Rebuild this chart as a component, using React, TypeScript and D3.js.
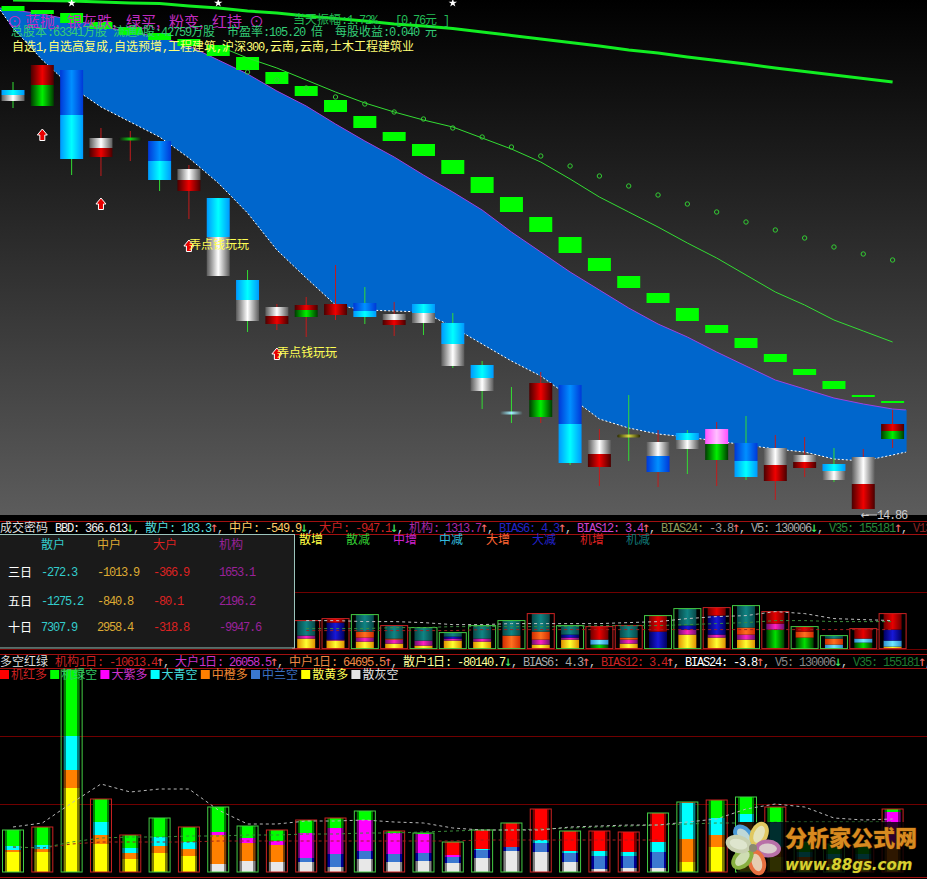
import React from 'react';
import * as d3 from 'd3';

const W = 927, H = 879;

// ---- Price pane (price readings) ----
const highs = [23.36,23.7,23.6,22.44,22.38,22.18,21.7,21.04,19.6,18.92,19.06,19.7,19.26,18.96,18.92,18.74,17.78,17.26,17.56,17.3,16.42,17.1,16.4,16.4,16.56,16.68,16.3,16.26,16.04,16.02,16.8];
const bodyTop = [23.2,23.7,23.6,22.24,22.22,22.18,21.62,21.04,19.4,18.86,18.9,18.92,18.94,18.72,18.92,18.54,17.7,16.74,17.34,17.3,16.2,16.28,16.16,16.34,16.42,16.14,16.04,15.9,15.72,15.86,16.52];
const bodyMid = [23.1,23.3,22.7,22.04,22.22,21.78,21.4,20.26,19,18.68,18.8,18.7,18.78,18.6,18.74,18.12,17.44,16.74,17,16.52,15.92,16.28,15.88,16.2,16.12,15.78,15.7,15.76,15.58,15.32,16.38];
const bodyBottom = [22.98,22.88,21.82,21.86,22.22,21.4,21.18,19.48,18.58,18.52,18.66,18.7,18.66,18.5,18.54,17.68,17.18,16.74,16.66,15.74,15.66,16.28,15.56,16.02,15.8,15.46,15.38,15.64,15.4,14.82,16.22];
const lows = [22.84,22.88,21.5,21.48,21.78,21.18,20.62,19.48,18.36,18.4,18.26,18.6,18.52,18.28,18.3,17.64,16.82,16.54,16.54,15.7,15.28,15.78,15.26,15.52,15.28,15.4,15,15.46,15.36,14.8,16.04];
const topTones = ['cyan','red','blue','grey','dojiG','blue','grey','cyan','cyan','grey','red','red','blue','grey','cyan','cyan','cyan','dojiC','red','blue','grey','dojiY','grey','cyan','pink','blue','grey','grey','cyan','grey','red'];
const bottomTones = ['grey','green','cyan','red','dojiG','cyan','red','grey','grey','red','green','red','cyan','red','grey','grey','grey','dojiC','green','cyan','red','dojiY','blue','grey','green','cyan','red','red','grey','red','green'];
const wickUp = [0,0,0,1,1,0,1,0,0,1,1,1,0,1,0,0,0,0,1,0,1,0,1,0,1,0,1,1,0,1,1];

const bandIndex = [-0.44, ...d3.range(31), 30.46];
const bandUpper = [24.84,24.8,24.72,24.6,24.48,24.36,24.26,24.08,23.8,23.52,23.18,22.88,22.52,22.18,21.86,21.5,21.16,20.8,20.36,19.96,19.56,19.2,18.84,18.52,18.26,17.96,17.68,17.4,17.22,17.04,16.92,16.82,16.8];
const bandLower = [24.8,24.44,23.8,23.26,22.86,22.56,22.26,21.84,21.34,20.74,20,19.44,18.9,18.8,18.78,18.76,18.46,18.12,17.78,17.48,17.06,16.62,16.44,16.32,16.26,16.18,16.1,16.02,15.96,15.82,15.78,15.9,15.96];

const stepTop = [24.88,24.8,24.74,24.56,24.46,24.34,24.22,24.1,23.86,23.56,23.28,23,22.68,22.36,22.12,21.8,21.46,21.06,20.66,20.26,19.84,19.48,19.14,18.84,18.5,18.24,17.92,17.62,17.38,17.1,16.98];
const stepBottom = [24.78,24.72,24.54,24.42,24.3,24.2,24.08,23.88,23.6,23.32,23.08,22.76,22.44,22.18,21.88,21.52,21.14,20.76,20.36,19.94,19.58,19.24,18.94,18.58,18.34,18.04,17.76,17.5,17.22,17.06,16.94];

const circleStart = 8;
const circleLine = [23.56,23.4,23.24,23.06,22.92,22.76,22.62,22.44,22.26,22.06,21.88,21.68,21.48,21.28,21.1,20.92,20.76,20.56,20.4,20.24,20.06,19.92,19.8];
const thinStart = 7;
const thinLine = [24.08,23.84,23.64,23.4,23.16,22.94,22.76,22.6,22.46,22.24,22.02,21.76,21.42,21.06,20.76,20.46,20.14,19.84,19.5,19.16,18.9,18.6,18.38,18.16];
const thickLine = [25,24.99,24.98,24.96,24.94,24.93,24.88,24.84,24.78,24.74,24.68,24.63,24.58,24.52,24.48,24.43,24.36,24.29,24.22,24.15,24.08,24,23.94,23.86,23.79,23.72,23.64,23.57,23.5,23.43,23.36];

const arrowIndex = [1, 3, 6, 9];
const arrowPrice = [22.3, 20.92, 20.08, 17.92];
const starIndex = [2, 7, 15];
const starPrice = [24.94, 24.94, 24.94];
const noteIndex = [6, 9];
const notePrice = [20.08, 17.92];

// ---- Middle pane: stacked volumes from index 10 ----
const midStart = 10;
const midKeys = ['yel','lime','mag','sky','org','nav','crm','tea'];
const midSeries: Record<string, number[]> = {
  yel: [10,8,7,5,3,8,7,0,4,9,0,5,0,14,11,9,0,0,0,0,2],
  lime:[0,0,0,0,0,0,0,0,0,0,4,0,0,0,0,0,19,11,0,6,0],
  mag: [3,1,4,4,5,2,3,0,5,2,0,4,0,5,3,5,6,0,0,0,0],
  sky: [0,0,0,0,0,0,0,0,0,0,5,0,0,0,0,0,0,0,4,4,6],
  org: [0,0,6,1,0,0,0,13,8,0,0,2,0,0,0,7,0,6,6,0,0],
  nav: [0,17,0,0,0,2,0,0,0,3,0,0,17,4,19,0,0,0,0,0,11],
  crm: [0,4,0,0,0,0,0,0,0,0,13,0,16,0,8,0,12,5,0,10,16],
  tea: [15,0,17,13,13,4,13,15,18,9,0,12,0,17,0,22,0,0,3,0,0],
};
const midRedBox = [1,1,0,1,0,0,0,0,1,0,1,1,0,0,1,0,1,0,0,1,1];
const midDashWhite = [28,28,27,27,26,24,24,25,25,25,25,26,27,30,32,33,37,35,30,29,28];
const midDashGreen = [20,20,20,21,21,22,22,22,22,22,23,23,23,24,25,26,28,28,27,27,27];
const midDashRed = [18,18,18,18,18,18,19,19,19,19,19,19,19,19,19,19,19,19,19,19,19];

// ---- Lower pane: stacked volumes ----
const lowKeys = ['yellow','gray','orange','steel','magenta','aqua','green','red'];
const lowSeries: Record<string, number[]> = {
  yellow: [20,20,84,28,13,19,16,0,0,0,0,0,0,0,0,0,0,0,0,0,0,0,0,10,25,25,15,10,8,8,10],
  gray:   [0,0,0,0,0,0,0,8,11,10,10,5,13,10,11,9,14,21,20,10,3,4,4,0,0,0,0,0,0,0,0],
  orange: [2,3,18,9,6,7,7,29,18,17,0,0,0,0,0,0,0,0,0,0,0,0,0,23,12,25,10,5,5,5,15],
  steel:  [0,0,0,0,0,0,0,0,0,0,4,13,8,8,8,6,8,4,9,9,13,12,16,0,0,0,0,0,0,0,0],
  magenta:[0,0,0,0,0,0,0,3,5,4,25,26,31,21,19,2,0,0,0,0,0,0,0,0,0,0,0,0,0,0,35],
  aqua:   [4,4,34,13,5,9,7,0,0,0,0,0,0,0,0,0,1,0,3,2,5,4,10,36,17,8,25,5,5,5,0],
  green:  [16,18,66,23,13,19,15,25,12,11,13,10,9,2,1,0,0,0,0,0,0,0,0,0,18,17,15,10,10,10,3],
  red:    [0,0,0,0,0,0,0,0,0,0,0,0,0,0,0,13,19,24,31,20,20,20,29,1,0,0,0,0,0,0,0],
};
const lowRedBox = [0,1,0,1,1,0,1,0,0,1,1,1,0,1,0,0,0,0,1,0,1,1,0,0,1,0,1,0,0,1,1];
const lowDashWhite = [45,49,69,88,80,83,83,62,48,48,51,51,52,50,49,44,42,42,42,45,46,47,47,50,53,63,68,65,54,52,53];
const lowDashGreen = [25,24,30,34,35,35,36,36,37,37,38,38,39,39,40,41,42,42,43,44,45,46,47,48,49,49,50,50,50,50,50];
const lowDashRed = [25,24,28,30,30,30,30,31,31,31,31,31,31,31,31,31,32,32,32,32,32,32,32];

// ---- Text ----
const mainTitle = [['⊙',7],['蓝抛,',25],['银灰跌,',67],['绿买,',126],['粉变,',169],['红持',212],['⊙',249]] as [string, number][];
const infoLine = '总股本:63341万股 流通A股:42759万股  市盈率:105.20 倍  每股收益:0.040 元';
const tagLine = '自选1,自选高复成,自选预增,工程建筑,沪深300,云南,云南,土木工程建筑业';
const midHeader: [string, string][] = [
  ['BBD: 366.613','#f0f0f0'],['↓','#44ee66'],[', ','#ccc'],
  ['散户: 183.3','#55dddd'],['↑','#ff7070'],[', ','#ccc'],
  ['中户: -549.9','#ffcc66'],['↓','#44ee66'],[', ','#ccc'],
  ['大户: -947.1','#cc2222'],['↓','#44ee66'],[', ','#ccc'],
  ['机构: 1313.7','#a828a8'],['↑','#ff7070'],[', ','#ccc'],
  ['BIAS6: 4.3','#2424c8'],['↑','#ff7070'],[', ','#ccc'],
  ['BIAS12: 3.4','#cc44cc'],['↑','#ff7070'],[', ','#ccc'],
  ['BIAS24: ','#8c9a5a'],['-3.8','#999'],['↑','#ff7070'],[', ','#ccc'],
  ['V5: 130006','#a8a8a8'],['↓','#44ee66'],[', ','#ccc'],
  ['V35: 155181','#2a8a3a'],['↑','#ff7070'],[', ','#ccc'],
  ['V135','#882222'],
];
const lowHeader: [string, string][] = [
  ['机构1日: -10613.4','#cc2222'],['↑','#ff7070'],[', ','#ccc'],
  ['大户1日: 26058.5','#cc33cc'],['↑','#ff7070'],[', ','#ccc'],
  ['中户1日: 64695.5','#ee8844'],['↑','#ff7070'],[', ','#ccc'],
  ['散户1日: -80140.7','#ffff99'],['↓','#44ee66'],[', ','#ccc'],
  ['BIAS6: 4.3','#a8a8a8'],['↑','#ff7070'],[', ','#ccc'],
  ['BIAS12: 3.4','#cc2222'],['↑','#ff7070'],[', ','#ccc'],
  ['BIAS24: -3.8','#ffffff'],['↑','#ff7070'],[', ','#ccc'],
  ['V5: 130006','#888'],['↓','#44ee66'],[', ','#ccc'],
  ['V35: 155181','#1f7a2f'],['↑','#ff7070'],[',','#ccc'],
];
const midLegendText = ['散增','散减','中增','中减','大增','大减','机增','机减'];
const midLegendX = [299,346,393,439,486,532,580,626];
const midLegendColor = ['#ffff44','#33cc33','#cc22cc','#33bbdd','#ff6633','#2222cc','#dd2222','#117777'];
const lowLegendText = ['机红多','机绿空','大紫多','大青空','中橙多','中兰空','散黄多','散灰空'];
const lowLegendBox = ['#ff0000','#00ff00','#ff00ff','#00ffff','#ff8000','#3a78d0','#ffff00','#e4e4e4'];
const lowLegendColor = ['#cc2222','#33cc66','#cc33cc','#44dddd','#ee8833','#3a70c0','#ffff55','#e4e4e4'];
const tableHeads = ['散户','中户','大户','机构'];
const tableHeadColor = ['#33cccc','#ddaa33','#dd2222','#992299'];
const tableX = [41,97,153,219];
const tableRows = ['三日','五日','十日'];
const tableBase = [577,606,632];
const tableValues = [
  ['-272.3','-1013.9','-366.9','1653.1'],
  ['-1275.2','-840.8','-80.1','2196.2'],
  ['7307.9','2958.4','-318.8','-9947.6'],
];
const petalAngle = [-38, 24, 92, 165, 225, 285];
const petalColor = ['#4a9ad8','#e0c860','#b870a8','#e87040','#88b040','#c8d0b0'];

// ---- Scales ----
const xOf = d3.scaleLinear().domain([0, 30]).range([13, 892.6]);
const yPrice = d3.scaleLinear().domain([25, 14.7]).range([0, 515]);
const yMid = d3.scaleLinear().domain([0, 100]).range([648.6, 548.6]);
const yLow = d3.scaleLinear().domain([0, 210]).range([872, 662]);

const candleTones: Record<string, [string, string]> = {
  grey: ['#5a5a5a', '#ffffff'],
  red: ['#4a0000', '#f00000'],
  green: ['#003c00', '#00f000'],
  blue: ['#0038d8', '#0090ff'],
  cyan: ['#0098ff', '#00ffff'],
  pink: ['#ff50ff', '#ffc0ff'],
  dojiG: ['#111111', '#10d010'],
  dojiC: ['#484848', '#a0f0ff'],
  dojiY: ['#2a2a00', '#d8d840'],
};
const midTones: Record<string, [string, string]> = {
  yel: ['#e09000', '#ffff30'],
  lime: ['#004000', '#00e000'],
  mag: ['#701070', '#ff20c0'],
  sky: ['#3090d0', '#70e8ff'],
  org: ['#d02c00', '#ff7020'],
  nav: ['#000060', '#1818d8'],
  crm: ['#700000', '#e80000'],
  tea: ['#084848', '#108484'],
};
const lowTones: Record<string, [string, string]> = {
  yellow: ['#808000', '#ffff00'],
  gray: ['#808080', '#e8e8e8'],
  orange: ['#804000', '#ff8000'],
  steel: ['#000090', '#3a78d0'],
  magenta: ['#800080', '#ff00ff'],
  aqua: ['#008080', '#00ffff'],
  green: ['#008000', '#00ff00'],
  red: ['#800000', '#ff0000'],
};

const LATIN = '"Liberation Mono","DejaVu Sans Mono",monospace';
const ARROW = '"DejaVu Sans Mono",monospace';
const CJK = '"Noto Sans CJK SC",sans-serif';

// Bitmap-font metrics: 6px per Latin char, 12px per CJK char
function Run({ parts, x, y }: { parts: [string, string][]; x: number; y: number }) {
  let cx = x;
  const spans: React.ReactElement[] = [];
  parts.forEach(([s, c], pi) => {
    const found = s.match(/[\u2E80-\u9FFF\uFF00-\uFFEF]+|[\u2190-\u2193]+|[^\u2E80-\u9FFF\uFF00-\uFFEF\u2190-\u2193]+/g) || [];
    found.forEach((r, ri) => {
      const cjk = /[\u2E80-\u9FFF\uFF00-\uFFEF]/.test(r);
      const arrow = /[\u2190-\u2193]/.test(r);
      if (arrow) {
        spans.push(<tspan key={`${pi}-${ri}`} x={cx - 1.2} fill={c} fontFamily={ARROW} fontSize={14}>{r}</tspan>);
      } else if (cjk) {
        spans.push(<tspan key={`${pi}-${ri}`} x={cx} fill={c} fontFamily={CJK} fontSize={12}>{r}</tspan>);
      } else {
        spans.push(<tspan key={`${pi}-${ri}`} x={cx} fill={c} fontFamily={LATIN} fontSize={12} letterSpacing={-1.2}>{r}</tspan>);
      }
      cx += r.length * (cjk ? 12 : 6);
    });
  });
  return <text y={y} style={{ whiteSpace: 'pre' }}>{spans}</text>;
}

function Defs() {
  const grad = (id: string, d: string, l: string) => (
    <linearGradient key={id} id={id} x1="0" x2="1" y1="0" y2="0">
      <stop offset="0" stopColor={d} />
      <stop offset="0.5" stopColor={l} />
      <stop offset="1" stopColor={d} />
    </linearGradient>
  );
  const hard = (id: string, d: string, l: string) => (
    <linearGradient key={id} id={id} x1="0" x2="1" y1="0" y2="0">
      <stop offset="0" stopColor={d} />
      <stop offset="0.14" stopColor={d} />
      <stop offset="0.14" stopColor={l} />
      <stop offset="0.86" stopColor={l} />
      <stop offset="0.86" stopColor={d} />
      <stop offset="1" stopColor={d} />
    </linearGradient>
  );
  return (
    <defs>
      <linearGradient id="paneBg" x1="0" x2="0" y1="0" y2="1">
        <stop offset="0" stopColor="#000000" />
        <stop offset="1" stopColor="#5c5c5c" />
      </linearGradient>
      {Object.entries(candleTones).map(([k, [d, l]]) => grad(`c-${k}`, d, l))}
      {Object.entries(midTones).map(([k, [d, l]]) => grad(`m-${k}`, d, l))}
      {Object.entries(lowTones).map(([k, [d, l]]) => hard(`l-${k}`, d, l))}
    </defs>
  );
}

function PricePane() {
  const bw = 23;
  const band = d3.area<number>()
    .x((_, i) => xOf(bandIndex[i]))
    .y0((_, i) => yPrice(bandLower[i]))
    .y1((d) => yPrice(d));
  const edge = d3.line<number>().x((_, i) => xOf(bandIndex[i])).y((d) => yPrice(d));
  const thin = d3.line<number>().x((_, i) => xOf(i + thinStart)).y((d) => yPrice(d));
  const thick = d3.line<number>().x((_, i) => xOf(i)).y((d) => yPrice(d));
  const star = d3.symbol().type(d3.symbolStar).size(22)() as string;
  return (
    <g>
      <rect x={0} y={0} width={W} height={515} fill="url(#paneBg)" />
      <path d={band(bandUpper) as string} fill="#0066cc" />
      <path d={edge(bandUpper) as string} fill="none" stroke="#a040e0" strokeWidth={1} />
      <path d={edge(bandLower) as string} fill="none" stroke="#ffffff" strokeWidth={1} strokeDasharray="2 2" />
      <line x1={xOf(30.46)} x2={xOf(30.46)} y1={yPrice(16.8)} y2={yPrice(15.96)} stroke="#0066cc" />
      {stepTop.map((t, i) => (
        <rect key={i} x={xOf(i) - bw / 2} y={yPrice(t)} width={bw} height={yPrice(stepBottom[i]) - yPrice(t)} fill="#00ff00" />
      ))}
      <path d={thin(thinLine) as string} fill="none" stroke="#33dd33" strokeWidth={1} />
      <path d={thick(thickLine) as string} fill="none" stroke="#11ee22" strokeWidth={3} />
      {circleLine.map((p, i) => (
        <circle key={i} cx={xOf(i + circleStart)} cy={yPrice(p)} r={2.2} fill="none" stroke="#33cc33" strokeWidth={1} />
      ))}
      {highs.map((h, i) => {
        const x = xOf(i);
        const t = yPrice(bodyTop[i]), m = yPrice(bodyMid[i]), b = yPrice(bodyBottom[i]);
        return (
          <g key={i}>
            <line x1={x} x2={x} y1={yPrice(h)} y2={yPrice(lows[i])} stroke={wickUp[i] ? '#c41c1c' : '#33dd33'} strokeWidth={1} />
            {b - t < 1 ? (
              <rect x={x - bw / 2} y={t - 1.5} width={bw} height={3} rx={1.5} fill={`url(#c-${topTones[i]})`} />
            ) : (
              <>
                {m > t && <rect x={x - bw / 2} y={t} width={bw} height={m - t} fill={`url(#c-${topTones[i]})`} />}
                {b > m && <rect x={x - bw / 2} y={m} width={bw} height={b - m} fill={`url(#c-${bottomTones[i]})`} />}
              </>
            )}
          </g>
        );
      })}
      {arrowIndex.map((a, i) => (
        <path key={i} transform={`translate(${xOf(a)},${yPrice(arrowPrice[i])})`}
          d="M0,-6 L5,0 L2.5,0 L2.5,5.5 L-2.5,5.5 L-2.5,0 L-5,0 Z" fill="#e80000" stroke="#ffffff" strokeWidth={1} />
      ))}
      {starIndex.map((a, i) => (
        <path key={i} transform={`translate(${xOf(a)},${yPrice(starPrice[i])})`} d={star} fill="#ffffff" />
      ))}
      {noteIndex.map((a, i) => (
        <text key={i} x={xOf(a)} y={yPrice(notePrice[i]) + 3} fontFamily={CJK} fontSize={12} fill="#ffff55">弄点钱玩玩</text>
      ))}
      {mainTitle.map(([s, x], i) => (
        <text key={i} x={x} y={27} fontFamily={CJK} fontSize={15} fill="#c02cc0">{s}</text>
      ))}
      <Run parts={[['当天振幅:1.72%   [0.76元 ]', '#22bb55']]} x={293} y={24} />
      <Run parts={[[infoLine, '#33cc77']]} x={11} y={36} />
      <Run parts={[[tagLine, '#ffff77']]} x={12} y={51} />
      <line x1={866} x2={877} y1={515} y2={515} stroke="#cccccc" />
      <Run parts={[['←', '#cccccc']]} x={862} y={519} />
      <Run parts={[['14.86', '#cccccc']]} x={877} y={519} />
    </g>
  );
}

function MidPane() {
  const rows = d3.range(midSeries.yel.length).map((i) => {
    const r: Record<string, number> = {};
    midKeys.forEach((k) => { r[k] = midSeries[k][i]; });
    return r;
  });
  const stacked = d3.stack<Record<string, number>>().keys(midKeys)(rows);
  const tops = rows.map((_, i) => d3.max(stacked, (s) => s[i][1]) as number);
  const dash = d3.line<number>().x((_, i) => xOf(i + midStart)).y((d) => yMid(d));
  const bw = 18, ow = 27;
  return (
    <g>
      {[521, 534, 654].map((y) => <line key={y} x1={0} x2={W} y1={y + 0.5} y2={y + 0.5} stroke="#a01010" />)}
      {[592, 649].map((y) => <line key={y} x1={0} x2={W} y1={y + 0.5} y2={y + 0.5} stroke="#700000" />)}
      {stacked.map((s) => s.map((seg, i) => seg[1] > seg[0] ? (
        <rect key={`${s.key}-${i}`} x={xOf(i + midStart) - bw / 2} y={yMid(seg[1])} width={bw}
          height={yMid(seg[0]) - yMid(seg[1])} fill={`url(#m-${s.key})`} />
      ) : null))}
      {tops.map((t, i) => (
        <rect key={i} x={xOf(i + midStart) - ow / 2} y={yMid(t)} width={ow} height={yMid(0) - yMid(t)}
          fill="none" stroke={midRedBox[i] ? '#cc2222' : '#44cc44'} />
      ))}
      <path d={dash(midDashRed) as string} fill="none" stroke="#a02020" strokeDasharray="3 3" />
      <path d={dash(midDashGreen) as string} fill="none" stroke="#3c8c3c" strokeDasharray="3 3" />
      <path d={dash(midDashWhite) as string} fill="none" stroke="#c0c0c0" strokeDasharray="3 3" />
      <Run parts={[['成交密码', '#dddddd']]} x={0} y={532} />
      <Run parts={midHeader} x={55} y={532} />
      {midLegendText.map((t, i) => (
        <Run key={t} parts={[[t, midLegendColor[i]]]} x={midLegendX[i]} y={544} />
      ))}
      <rect x={-1} y={534.5} width={295.5} height={113.5} fill="#1a1a1a" stroke="#9cc4bc" />
      {tableHeads.map((t, i) => (
        <Run key={t} parts={[[t, tableHeadColor[i]]]} x={tableX[i]} y={549} />
      ))}
      {tableRows.map((t, r) => (
        <g key={t}>
          <Run parts={[[t, '#ffffff']]} x={8} y={tableBase[r]} />
          {tableValues[r].map((v, c) => (
            <Run key={c} parts={[[v, tableHeadColor[c]]]} x={tableX[c]} y={tableBase[r] - 1} />
          ))}
        </g>
      ))}
    </g>
  );
}

function LowPane() {
  const rows = d3.range(31).map((i) => {
    const r: Record<string, number> = {};
    lowKeys.forEach((k) => { r[k] = lowSeries[k][i]; });
    return r;
  });
  const stacked = d3.stack<Record<string, number>>().keys(lowKeys)(rows);
  const tops = rows.map((_, i) => d3.max(stacked, (s) => s[i][1]) as number);
  const dash = d3.line<number>().x((_, i) => xOf(i)).y((d) => yLow(d));
  const bw = 16, ow = 21;
  return (
    <g>
      {[668, 877].map((y) => <line key={y} x1={0} x2={W} y1={y + 0.5} y2={y + 0.5} stroke="#a01010" />)}
      {[736, 804].map((y) => <line key={y} x1={0} x2={W} y1={y + 0.5} y2={y + 0.5} stroke="#700000" />)}
      {stacked.map((s) => s.map((seg, i) => seg[1] > seg[0] ? (
        <rect key={`${s.key}-${i}`} x={xOf(i) - bw / 2} y={yLow(seg[1])} width={bw}
          height={yLow(seg[0]) - yLow(seg[1])} fill={`url(#l-${s.key})`} />
      ) : null))}
      {tops.map((t, i) => (
        <rect key={i} x={xOf(i) - ow / 2} y={yLow(t)} width={ow} height={yLow(0) - yLow(t)}
          fill="none" stroke={lowRedBox[i] ? '#cc2222' : '#44cc44'} />
      ))}
      <path d={dash(lowDashRed) as string} fill="none" stroke="#a02020" strokeDasharray="3 3" />
      <path d={dash(lowDashGreen) as string} fill="none" stroke="#3c8c3c" strokeDasharray="3 3" />
      <path d={dash(lowDashWhite) as string} fill="none" stroke="#b8b8b8" strokeDasharray="3 3" />
      <Run parts={[['多空红绿', '#dddddd']]} x={0} y={666} />
      <Run parts={lowHeader} x={55} y={666} />
      {lowLegendText.map((t, i) => (
        <g key={t}>
          <rect x={i * 50.2} y={670} width={9} height={9} fill={lowLegendBox[i]} />
          <Run parts={[[t, lowLegendColor[i]]]} x={i * 50.2 + 11} y={679} />
        </g>
      ))}
    </g>
  );
}

function Watermark() {
  const cx = xOf(25) + 7, cy = yLow(24);
  return (
    <g>
      <rect x={737} y={822} width={170} height={55} fill="#000000" opacity={0.82} />
      <g transform={`translate(${cx},${cy})`}>
        {petalAngle.map((a, i) => (
          <g key={a} transform={`rotate(${a}) translate(0,-15)`}>
            <ellipse rx={9} ry={13} fill={petalColor[i]} />
            <ellipse rx={5} ry={9} fill="#e6ecd8" opacity={0.75} />
          </g>
        ))}
        <circle r={4} fill="#8a8a70" />
      </g>
      <text x={785} y={846} fontFamily={CJK} fontWeight={900} fontSize={22} fill="#d88a20" stroke="#4a2a00" strokeWidth={1} style={{ paintOrder: 'stroke' }}>分析家公式网</text>
      <text x={785} y={870} fontFamily='"DejaVu Sans",sans-serif' fontWeight={700} fontStyle="italic" fontSize={15} fill="#d8d030" stroke="#3a3000" strokeWidth={0.6} style={{ paintOrder: 'stroke' }}>www.88gs.com</text>
    </g>
  );
}

export default function App() {
  return (
    <svg width={W} height={H} viewBox={`0 0 ${W} ${H}`}
      style={{ position: 'absolute', left: 0, top: 0, display: 'block', background: '#000' }}>
      <Defs />
      <PricePane />
      <MidPane />
      <LowPane />
      <Watermark />
    </svg>
  );
}
